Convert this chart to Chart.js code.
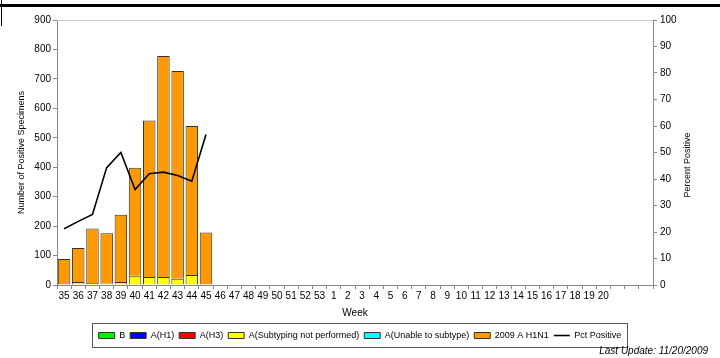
<!DOCTYPE html>
<html>
<head>
<meta charset="utf-8">
<script src="https://cdn.jsdelivr.net/npm/chart.js@4/dist/chart.umd.min.js"></script>
<style>
  html, body { margin: 0; padding: 0; background: #fff; }
  #wrap { width: 720px; height: 358px; position: relative; }
</style>
</head>
<body>
<div id="wrap"><canvas id="myChart" width="720" height="358"></canvas></div>
<script>
// weeks 35..53 then 1..20, plus three blank slots at the end
const weeks = ["35","36","37","38","39","40","41","42","43","44","45","46","47","48","49","50","51","52","53",
  "1","2","3","4","5","6","7","8","9","10","11","12","13","14","15","16","17","18","19","20","","",""];

const fluB      = [0,0,0,0,0,0,0,0,0,0,0];
const aH1       = [0,0,0,0,0,0,0,0,0,0,0];
const aH3       = [0,0,0,0,0,0,0,0,0,0,0];
const aNotTyped = [3,10,7,6,10,31,27,27,21,34,0];
const aUnable   = [0,0,0,0,0,0,0,0,0,0,0];
const h1n1_2009 = [85,116,185,170,229,367,532,751,706,506,178];
const pctPos    = [21.2,24,26.6,44.3,50,36,42,42.6,41.3,39.2,56.8];

const yTicks = [0,100,200,300,400,500,600,700,800,900];
const pctTicks = [0,10,20,30,40,50,60,70,80,90,100];

const font = "'Liberation Sans', Arial, sans-serif";

const extras = {
  id: "extras",
  afterDraw(chart) {
    const ctx = chart.ctx;
    const ca = chart.chartArea;
    ctx.save();
    // top grid line at 900
    ctx.strokeStyle = "#c8c8c8";
    ctx.lineWidth = 1;
    ctx.beginPath();
    ctx.moveTo(ca.left, ca.top + 0.5);
    ctx.lineTo(ca.right, ca.top + 0.5);
    ctx.stroke();

    // frame bits
    ctx.fillStyle = "#000";
    ctx.fillRect(0, 4, 720, 3);
    ctx.fillRect(1, 0, 1, 26);

    // right axis title, reading upward
    ctx.fillStyle = "#000";
    ctx.font = "9px " + font;
    ctx.textAlign = "center";
    ctx.textBaseline = "middle";
    ctx.translate(688, 165);
    ctx.rotate(-Math.PI / 2);
    ctx.fillText("Percent Positive", 0, 0);
    ctx.setTransform(1, 0, 0, 1, 0, 0);

    // legend frame
    const hb = chart.legend.legendHitBoxes;
    if (hb && hb.length) {
      let l = Infinity, r = -Infinity, t = Infinity, b = -Infinity;
      hb.forEach(h => {
        l = Math.min(l, h.left); r = Math.max(r, h.left + h.width);
        t = Math.min(t, h.top); b = Math.max(b, h.top + h.height);
      });
      ctx.strokeStyle = "#555";
      ctx.strokeRect(Math.round(l) - 6.5, Math.round(t) - 7.5, Math.round(r - l) + 12, Math.round(b - t) + 15);
    }

    ctx.font = "italic 10px " + font;
    ctx.textAlign = "right";
    ctx.textBaseline = "middle";
    ctx.fillText("Last Update: 11/20/2009", 708, 351);
    ctx.restore();
  }
};

const barStyle = (label, data, color) => ({
  type: "bar",
  label: label,
  data: data,
  backgroundColor: color,
  borderColor: "#333",
  borderWidth: 1,
  yAxisID: "y",
  stack: "s",
  pointStyle: "rect",
  barPercentage: 0.88,
  categoryPercentage: 1.0,
  order: 2
});

const ctx = document.getElementById("myChart").getContext("2d");
const myChart = new Chart(ctx, {
  data: {
    labels: weeks,
    datasets: [
      barStyle("B", fluB, "#00ee00"),
      barStyle("A(H1)", aH1, "#0000ff"),
      barStyle("A(H3)", aH3, "#ff0000"),
      barStyle("A(Subtyping not performed)", aNotTyped, "#ffff00"),
      barStyle("A(Unable to subtype)", aUnable, "#00ffff"),
      barStyle("2009 A H1N1", h1n1_2009, "#ff9900"),
      {
        type: "line",
        label: "Pct Positive",
        data: pctPos,
        borderColor: "#000",
        backgroundColor: "#000",
        borderWidth: 1.6,
        pointRadius: 0,
        pointStyle: "line",
        tension: 0,
        yAxisID: "y1",
        order: 1
      }
    ]
  },
  options: {
    responsive: false,
    animation: false,
    layout: { padding: { top: 20, left: 0, right: 0, bottom: 8 } },
    plugins: {
      tooltip: { enabled: false },
      legend: {
        position: "bottom",
        labels: {
          usePointStyle: true,
          pointStyleWidth: 16,
          boxHeight: 6,
          padding: 5,
          color: "#000",
          font: { family: font, size: 9 },
          sort: (a, b) => a.datasetIndex - b.datasetIndex
        }
      }
    },
    scales: {
      x: {
        stacked: true,
        grid: { offset: true, drawOnChartArea: false, tickLength: 4, color: "#888" },
        border: { color: "#888" },
        ticks: { color: "#000", font: { family: font, size: 10 }, maxRotation: 0, autoSkip: false, padding: 1 },
        title: { display: true, text: "Week", color: "#000", font: { family: font, size: 10 }, padding: { top: 0, bottom: 7 } },
        afterFit: (s) => { s.height = 41; }
      },
      y: {
        stacked: true,
        min: 0, max: 900,
        afterBuildTicks: (s) => { s.ticks = yTicks.map(v => ({ value: v })); },
        grid: { drawOnChartArea: false, tickLength: 4, color: "#888" },
        border: { color: "#888" },
        ticks: { color: "#000", font: { family: font, size: 10 }, padding: 2 },
        title: { display: true, text: "Number of Positive Specimens", color: "#000", font: { family: font, size: 9 }, padding: { top: 16, bottom: 0 } },
        afterFit: (s) => { s.width = 57; }
      },
      y1: {
        position: "right",
        min: 0, max: 100,
        afterBuildTicks: (s) => { s.ticks = pctTicks.map(v => ({ value: v })); },
        grid: { drawOnChartArea: false, tickLength: 4, color: "#888" },
        border: { color: "#888" },
        ticks: { color: "#000", font: { family: font, size: 10 }, padding: 3 },
        afterFit: (s) => { s.width = 67; }
      }
    }
  },
  plugins: [extras]
});
</script>
</body>
</html>
